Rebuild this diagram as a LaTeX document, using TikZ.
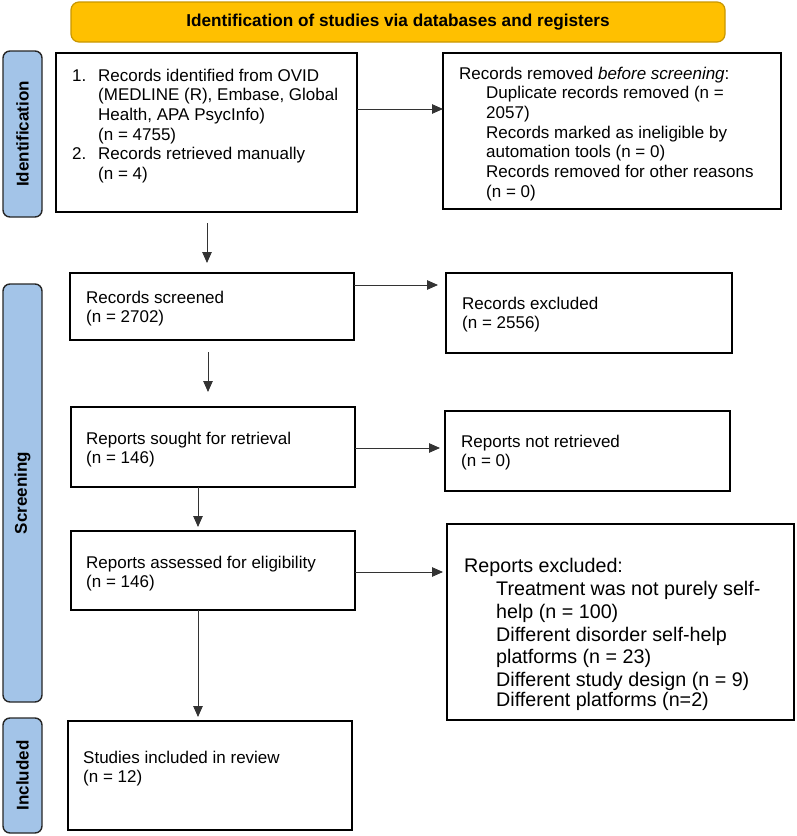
\documentclass[tikz,border=0pt]{standalone}
\usepackage{fontspec}
\setmainfont{Liberation Sans}
\usetikzlibrary{arrows.meta}
\definecolor{bannerfill}{HTML}{FFC000}
\definecolor{bannerdraw}{HTML}{C99700}
\definecolor{sidefill}{HTML}{A3C4E8}
\definecolor{linegray}{HTML}{333333}
\begin{document}
\begin{tikzpicture}[x=1pt,y=-1pt,
  box/.style={draw=black,line width=1.6pt,inner sep=0pt,outer sep=0pt},
  side/.style={draw=black!85,fill=sidefill,line width=1.4pt,rounded corners=7pt,inner sep=0pt,rotate=90,font=\fontsize{17}{20}\selectfont\bfseries},
  txt/.style={anchor=north west,inner sep=0pt,align=left,font=\fontsize{17}{19.7}\selectfont},
  bigtxt/.style={anchor=north west,inner sep=0pt,align=left,font=\fontsize{19.7}{22.7}\selectfont},
  arr/.style={draw=linegray,line width=0.9pt,-{Triangle[length=11pt,width=9.5pt]}}]
\useasboundingbox (0,0) rectangle (796,836);
% banner
\node[fill=bannerfill,draw=bannerdraw,line width=1.2pt,rounded corners=8pt,minimum width=654pt,minimum height=40pt,inner sep=0pt,font=\fontsize{17.2}{20}\selectfont\bfseries] (ban) at (398,22) {Identification of studies via databases and registers};
% side labels
\node[side,minimum width=166pt,minimum height=39pt] (sid) at (22.5,134) {Identification};
\node[side,minimum width=418pt,minimum height=39pt] (sscr) at (22.5,493) {Screening};
\node[side,minimum width=115pt,minimum height=39pt] (sinc) at (22.5,775.5) {Included};
% boxes
\node[box,minimum width=301pt,minimum height=159pt] (b1) at (206.5,132.5) {};
\node[box,minimum width=338pt,minimum height=156pt] (rem) at (612,131) {};
\node[box,minimum width=284pt,minimum height=67pt] (scr) at (212,306.5) {};
\node[box,minimum width=286pt,minimum height=80pt] (exc) at (589,313) {};
\node[box,minimum width=284pt,minimum height=80pt] (sou) at (213,447) {};
\node[box,minimum width=285pt,minimum height=80pt] (nr) at (587.5,451) {};
\node[box,minimum width=284pt,minimum height=79pt] (ass) at (213,570.5) {};
\node[box,minimum width=347pt,minimum height=196pt] (rex) at (620.5,622) {};
\node[box,minimum width=284pt,minimum height=109pt] (inc) at (210,775.5) {};
% texts
\node[txt] (t1) at (72,68.5) {\makebox[26pt][l]{1.}Records identified from OVID\\
\hspace*{26pt}(MEDLINE (R), Embase, Global\\
\hspace*{26pt}Health, APA PsycInfo)\\
\hspace*{26pt}(n = 4755)\\
\makebox[26pt][l]{2.}Records retrieved manually\\
\hspace*{26pt}(n = 4)};
\node[txt] (trem) at (459,66.5) {Records removed \textit{before screening}:\\
\hspace*{27pt}Duplicate records removed (n =\\
\hspace*{27pt}2057)\\
\hspace*{27pt}Records marked as ineligible by\\
\hspace*{27pt}automation tools (n = 0)\\
\hspace*{27pt}Records removed for other reasons\\
\hspace*{27pt}(n = 0)};
\node[txt] (tscr) at (86,290.5) {Records screened\\(n = 2702)};
\node[txt] (texc) at (462,296.5) {Records excluded\\(n = 2556)};
\node[txt] (tsou) at (86,431.5) {Reports sought for retrieval\\(n = 146)};
\node[txt] (tnr) at (461,434.5) {Reports not retrieved\\(n = 0)};
\node[txt] (tass) at (86,555.5) {Reports assessed for eligibility\\(n = 146)};
\node[txt] (tinc) at (83,750.5) {Studies included in review\\(n = 12)};
\node[bigtxt] (trex) at (464,558.5) {Reports excluded:\\
\hspace*{32pt}Treatment was not purely self-\\
\hspace*{32pt}help (n = 100)\\
\hspace*{32pt}Different disorder self-help\\
\hspace*{32pt}platforms (n = 23)\\
\hspace*{32pt}Different study design (n = 9)\\[-2.7pt]
\hspace*{32pt}Different platforms (n=2)};
% connector guides
\coordinate (yA) at (0,109);
\coordinate (yB) at (0,285);
\coordinate (yC) at (0,448);
\coordinate (yD) at (0,572);
\coordinate (xA) at (207,0);
\coordinate (xB) at (208,0);
\coordinate (xC) at (198,0);
% connectors
\draw[arr] (b1.east |- yA) -- (rem.west |- yA);
\draw[arr,shorten <=11pt,shorten >=10pt] (b1.south -| xA) -- (scr.north -| xA);
\draw[arr,shorten >=8pt] (scr.east |- yB) -- (exc.west |- yB);
\draw[arr,shorten <=12pt,shorten >=15pt] (scr.south -| xB) -- (sou.north -| xB);
\draw[arr,shorten >=5pt] (sou.east |- yC) -- (nr.west |- yC);
\draw[arr,shorten >=4pt] (sou.south -| xC) -- (ass.north -| xC);
\draw[arr,shorten >=4pt] (ass.east |- yD) -- (rex.west |- yD);
\draw[arr,shorten >=4pt] (ass.south -| xC) -- (inc.north -| xC);
\end{tikzpicture}
\end{document}
